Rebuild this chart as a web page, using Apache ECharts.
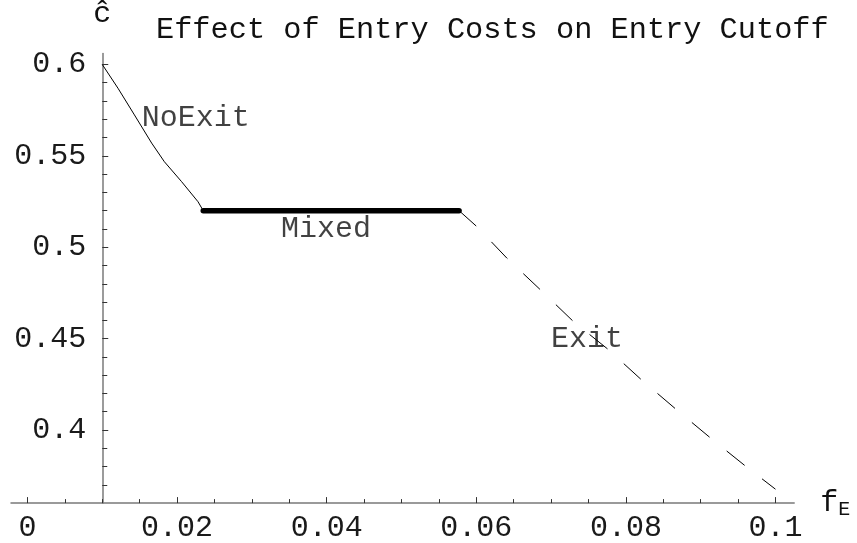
<!DOCTYPE html>
<html>
<head>
<meta charset="utf-8">
<script src="https://cdn.jsdelivr.net/npm/echarts@6/dist/echarts.min.js"></script>
<style>
  html, body { margin: 0; padding: 0; background: #fff; }
  #chart { width: 857px; height: 543px; }
</style>
</head>
<body>
<div id="chart"></div>
<script>
// Entry cutoff ĉ as a function of the entry cost f_E, in three regimes.
const noExitX = [0.0100, 0.0121, 0.0143, 0.0166, 0.0183, 0.0206, 0.0228, 0.0235];
const noExitY = [0.6000, 0.5870, 0.5724, 0.5570, 0.5468, 0.5359, 0.5249, 0.5200];

const mixedX = [0.0235, 0.0577];
const mixedY = [0.5200, 0.5200];

const exitX = [0.0577, 0.0601, 0.0641, 0.0685, 0.0730, 0.0776, 0.0821, 0.0868, 0.0915, 0.0961, 0.1000];
const exitY = [0.5200, 0.5112, 0.4940, 0.4770, 0.4593, 0.4442, 0.4274, 0.4110, 0.3950, 0.3799, 0.3676];

const xTicks = [0, 0.02, 0.04, 0.06, 0.08, 0.1];
const xTickLabels = ['0', '0.02', '0.04', '0.06', '0.08', '0.1'];
const xMinorTicks = [0.005, 0.01, 0.015, 0.025, 0.03, 0.035, 0.045, 0.05, 0.055,
                     0.065, 0.07, 0.075, 0.085, 0.09, 0.095];

const yTicks = [0.4, 0.45, 0.5, 0.55, 0.6];
const yTickLabels = ['0.4', '0.45', '0.5', '0.55', '0.6'];
const yMinorTicks = [0.37, 0.38, 0.39, 0.41, 0.42, 0.43, 0.44, 0.46, 0.47, 0.48, 0.49,
                     0.51, 0.52, 0.53, 0.54, 0.56, 0.57, 0.58, 0.59];

const regimeNames = ['NoExit', 'Mixed', 'Exit'];
const regimeLabelAt = [[0.0225, 0.5705], [0.0399, 0.5100], [0.0748, 0.4500]];

const xRange = [-0.0022, 0.1025];
const yRange = [0.36, 0.606];
const yAxisCrossesAt = 0.01;

const FONT = 'Liberation Mono';
const zip = (xs, ys) => xs.map((x, i) => [x, ys[i]]);

const chart = echarts.init(document.getElementById('chart'), null, { renderer: 'canvas' });

const gridLeft = 11;
const axisGray = '#7a7a7a';

function yAxes(offset) {
  return [
    {
      type: 'value', position: 'left', min: yRange[0], max: yRange[1], offset: offset,
      name: 'ĉ', nameLocation: 'end', nameGap: 24,
      nameTextStyle: { fontFamily: FONT, fontSize: 30, color: '#111', align: 'center' },
      axisLine: { show: true, onZero: false, lineStyle: { color: axisGray, width: 1.5 } },
      axisTick: { show: true, inside: true, length: 6, customValues: yTicks, lineStyle: { color: '#333' } },
      axisLabel: {
        show: true, customValues: yTicks, margin: 16,
        fontFamily: FONT, fontSize: 30, color: '#1a1a1a',
        formatter: v => yTickLabels[yTicks.findIndex(t => Math.abs(t - v) < 1e-9)] ?? ''
      },
      splitLine: { show: false }
    },
    {
      type: 'value', position: 'left', min: yRange[0], max: yRange[1], offset: offset,
      axisLine: { show: false, onZero: false },
      axisTick: { show: true, inside: true, length: 5, customValues: yMinorTicks, lineStyle: { color: '#333' } },
      axisLabel: { show: false },
      splitLine: { show: false }
    }
  ];
}

const option = {
  animation: false,
  backgroundColor: '#fff',
  title: {
    text: 'Effect of Entry Costs on Entry Cutoff',
    left: 151, top: 10,
    textStyle: { fontFamily: FONT, fontSize: 30.3, fontWeight: 'normal', color: '#111' }
  },
  grid: {
    left: gridLeft, right: 62.8, top: 53.5, bottom: 39.9,
    containLabel: false, outerBoundsMode: 'none'
  },
  xAxis: [
    {
      type: 'value', position: 'bottom', min: xRange[0], max: xRange[1],
      name: '{f|f}{s|E}', nameLocation: 'end', nameGap: 26,
      nameTextStyle: {
        rich: {
          f: { fontFamily: FONT, fontSize: 30, color: '#111' },
          s: { fontFamily: FONT, fontSize: 20, color: '#111', padding: [14, 0, 0, 0] }
        }
      },
      axisLine: { show: true, onZero: false, lineStyle: { color: axisGray, width: 1.5 } },
      axisTick: { show: true, inside: true, length: 6, customValues: xTicks, lineStyle: { color: '#333' } },
      axisLabel: {
        show: true, customValues: xTicks, margin: 10,
        fontFamily: FONT, fontSize: 30, color: '#1a1a1a',
        formatter: v => xTickLabels[xTicks.findIndex(t => Math.abs(t - v) < 1e-9)] ?? ''
      },
      splitLine: { show: false }
    },
    {
      type: 'value', position: 'bottom', min: xRange[0], max: xRange[1],
      axisLine: { show: false, onZero: false },
      axisTick: { show: true, inside: true, length: 4, customValues: xMinorTicks, lineStyle: { color: '#333' } },
      axisLabel: { show: false },
      splitLine: { show: false }
    }
  ],
  yAxis: yAxes(0),
  series: [
    {
      name: 'NoExit', type: 'line', data: zip(noExitX, noExitY),
      symbol: 'none', smooth: false,
      lineStyle: { color: '#000', width: 1 }
    },
    {
      name: 'Mixed', type: 'line', data: zip(mixedX, mixedY),
      symbol: 'none',
      lineStyle: { color: '#000', width: 5.5, cap: 'round' }
    },
    {
      name: 'Exit', type: 'line', data: zip(exitX, exitY),
      symbol: 'none', smooth: false,
      lineStyle: { color: '#000', width: 1, type: [23, 22] }
    },
    {
      name: 'regimes', type: 'scatter', symbolSize: 0,
      data: regimeLabelAt.map((p, i) => ({ value: p, name: regimeNames[i] })),
      label: {
        show: true, position: 'inside', formatter: p => p.name,
        fontFamily: FONT, fontSize: 30, color: '#111'
      },
      silent: true
    }
  ]
};

chart.setOption(option);

// Put the vertical axis at f_E = 0.01, where the plotted curve begins.
const crossPx = chart.convertToPixel({ xAxisIndex: 0 }, yAxisCrossesAt);
chart.setOption({ yAxis: yAxes(gridLeft - crossPx) });
</script>
</body>
</html>
